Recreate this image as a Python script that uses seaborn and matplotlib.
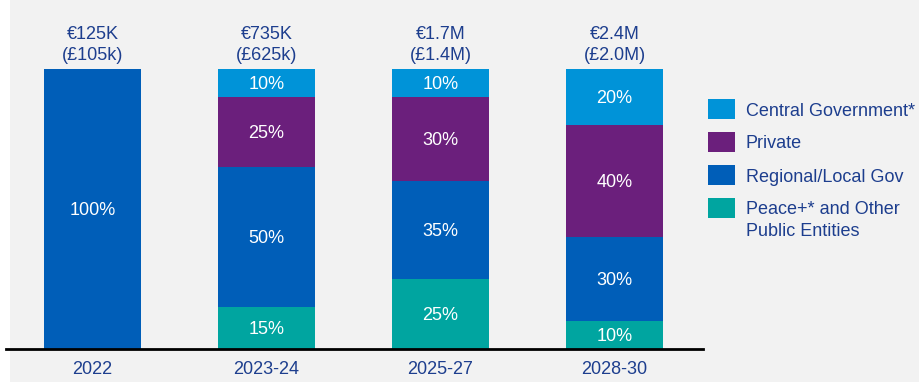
import matplotlib
matplotlib.use("Agg")
import matplotlib.pyplot as plt
import matplotlib.transforms as mtransforms
from matplotlib.patches import Rectangle
import numpy as np
import pandas as pd
import seaborn as sns

# Funding mix by period (share of total, %)
periods = ["2022", "2023-24", "2025-27", "2028-30"]
series = ["Peace+* and Other\nPublic Entities", "Regional/Local Gov", "Private", "Central Government*"]
peace = [0, 15, 25, 10]
regional = [100, 50, 35, 30]
private = [0, 25, 30, 40]
central = [0, 10, 10, 20]
totals_eur = ["€125K", "€735K", "€1.7M", "€2.4M"]
totals_gbp = ["(£105k)", "(£625k)", "(£1.4M)", "(£2.0M)"]

colors = ["#00A5A0", "#005EB8", "#6B1F7C", "#0093D8"]
text_blue = "#1D3E8E"
bg = "#F2F2F2"
fs = 13

sns.set_theme(style="white")
plt.rcParams["font.family"] = ["Liberation Sans", "DejaVu Sans"]

W, H = 920, 382
fig = plt.figure(figsize=(W / 100, H / 100), dpi=100, facecolor=bg)
# white margin strip at the left edge
fig.patches.append(Rectangle((0, 0), 10 / W, 1, transform=fig.transFigure,
                             facecolor="white", edgecolor="none", zorder=-1))

ax = fig.add_axes([6 / W, (H - 349) / H, 697 / W, 280 / H])
ax.set_facecolor("none")

# nudge labels down slightly so the cap height sits centred
shift = mtransforms.ScaledTranslation(0, -1.5 / 100, fig.dpi_scale_trans)
data_shift = ax.transData + shift

values = [peace, regional, private, central]
bottom = np.zeros(len(periods))
for name, vals, col in zip(series, values, colors):
    df = pd.DataFrame({"period": periods, "share": vals})
    sns.barplot(data=df, x="period", y="share", order=periods, color=col,
                width=0.557, bottom=bottom.copy(), linewidth=0, saturation=1,
                ax=ax, zorder=2)
    for i, v in enumerate(vals):
        if v > 0:
            ax.text(i, bottom[i] + v / 2, f"{v}%", ha="center", va="center",
                    color="white", fontsize=fs, zorder=3, transform=data_shift)
    bottom += np.array(vals)

# totals above each bar
for i in range(len(periods)):
    ax.text(i, 113, totals_eur[i], ha="center", va="center", color=text_blue,
            fontsize=fs, clip_on=False, transform=data_shift)
    ax.text(i, 105.3, totals_gbp[i], ha="center", va="center", color=text_blue,
            fontsize=fs, clip_on=False, transform=data_shift)

ax.set_xlim(-0.497, 3.509)
ax.set_ylim(0, 100)
ax.set_xlabel("")
ax.set_ylabel("")
ax.set_yticks([])
ax.tick_params(axis="x", length=0, pad=9, labelsize=fs, labelcolor=text_blue)
for s in ["top", "right", "left"]:
    ax.spines[s].set_visible(False)
ax.spines["bottom"].set_color("black")
ax.spines["bottom"].set_linewidth(2)
ax.spines["bottom"].set_zorder(4)

# legend, top entry first
leg_items = list(zip(series, colors))[::-1]
y_centers = [109, 142, 175, 208]
for (name, col), yc in zip(leg_items, y_centers):
    fig.patches.append(Rectangle((708 / W, (H - yc - 10) / H), 27 / W, 20 / H,
                                 transform=fig.transFigure, facecolor=col,
                                 edgecolor="none"))
    lines = name.split("\n")
    for k, line in enumerate(lines):
        fig.text(746 / W, (H - yc - 2 - 22 * k) / H, line, ha="left", va="center",
                 color=text_blue, fontsize=fs)

fig.savefig("out.png", dpi=100, facecolor=bg)
